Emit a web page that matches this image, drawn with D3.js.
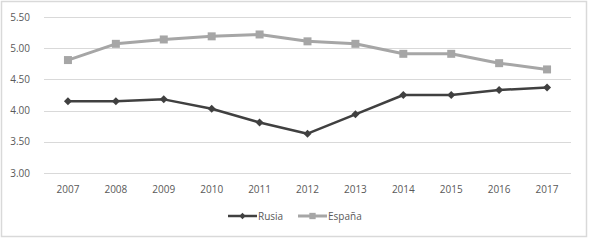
<!DOCTYPE html>
<html>
<head>
<meta charset="utf-8">
<script src="https://cdn.jsdelivr.net/npm/d3@7"></script>
<style>
  body { margin: 0; background: #fff; }
  text { font-family: "Open Sans", "Liberation Sans", sans-serif; }
</style>
</head>
<body>
<div id="chart"></div>
<script>
// data
const years = ["2007", "2008", "2009", "2010", "2011", "2012", "2013", "2014", "2015", "2016", "2017"];
const rusia = [4.15, 4.15, 4.18, 4.03, 3.81, 3.63, 3.94, 4.25, 4.25, 4.33, 4.37];
const espana = [4.81, 5.07, 5.14, 5.19, 5.22, 5.11, 5.07, 4.91, 4.91, 4.76, 4.66];
const yTicks = [3.0, 3.5, 4.0, 4.5, 5.0, 5.5];

const W = 589, H = 240;
const margin = { top: 17, right: 18, bottom: 67, left: 44 };

const svg = d3.select("#chart").append("svg")
    .attr("width", W)
    .attr("height", H);

// outer frame
svg.append("rect")
    .attr("x", 1.5).attr("y", 1.5)
    .attr("width", W - 4).attr("height", H - 5)
    .attr("fill", "#fff")
    .attr("stroke", "#d9d9d9")
    .attr("stroke-width", 1.5);

const x = d3.scaleBand()
    .domain(years)
    .range([margin.left, W - margin.right]);

const y = d3.scaleLinear()
    .domain([3.0, 5.5])
    .range([173, margin.top]);

// gridlines
svg.append("g")
    .selectAll("line")
    .data(yTicks)
    .join("line")
    .attr("x1", margin.left).attr("x2", W - margin.right)
    .attr("y1", d => Math.round(y(d)) + 0.5)
    .attr("y2", d => Math.round(y(d)) + 0.5)
    .attr("stroke", "#d9d9d9")
    .attr("stroke-width", 1);

// y tick labels
svg.append("g")
    .selectAll("text")
    .data(yTicks)
    .join("text")
    .attr("x", 30)
    .attr("y", d => y(d) + 3.5)
    .attr("text-anchor", "end")
    .attr("font-size", 10)
    .attr("fill", "#595959")
    .text(d => d.toFixed(2));

// x labels
svg.append("g")
    .selectAll("text")
    .data(years)
    .join("text")
    .attr("x", d => x(d) + x.bandwidth() / 2)
    .attr("y", 193)
    .attr("text-anchor", "middle")
    .attr("font-size", 10)
    .attr("fill", "#595959")
    .text(d => d);

const cx = (d, i) => x(years[i]) + x.bandwidth() / 2;
const line = d3.line().x(cx).y(d => y(d));

// rusia uses a square turned 45deg, closer to the excel diamond than d3's tall one
function addSeries(values, color, width, size, rot) {
    svg.append("path")
        .datum(values)
        .attr("d", line)
        .attr("fill", "none")
        .attr("stroke", color)
        .attr("stroke-width", width)
        .attr("stroke-linejoin", "round");
    svg.append("g")
        .selectAll("path")
        .data(values)
        .join("path")
        .attr("transform", (d, i) => `translate(${cx(d, i)},${y(d)}) rotate(${rot})`)
        .attr("d", d3.symbol().type(d3.symbolSquare).size(size))
        .attr("fill", color);
}

addSeries(espana, "#a6a6a6", 3, 64, 0);
addSeries(rusia, "#404040", 2.5, 32, 45);

// legend
const legend = [
    { name: "Rusia", color: "#404040", width: 2.5, size: 20, rot: 45, x0: 228 },
    { name: "España", color: "#a6a6a6", width: 3, size: 40, rot: 0, x0: 298 }
];
const lg = svg.append("g").selectAll("g").data(legend).join("g")
    .attr("transform", d => `translate(${d.x0},216)`);
lg.append("line")
    .attr("x1", 0).attr("x2", 29)
    .attr("stroke", d => d.color)
    .attr("stroke-width", d => d.width);
lg.append("path")
    .attr("transform", d => `translate(14.5,0) rotate(${d.rot})`)
    .attr("d", d => d3.symbol().type(d3.symbolSquare).size(d.size)())
    .attr("fill", d => d.color);
lg.append("text")
    .attr("x", 30)
    .attr("y", 3.5)
    .attr("font-size", 10)
    .attr("fill", "#595959")
    .text(d => d.name);
</script>
</body>
</html>
